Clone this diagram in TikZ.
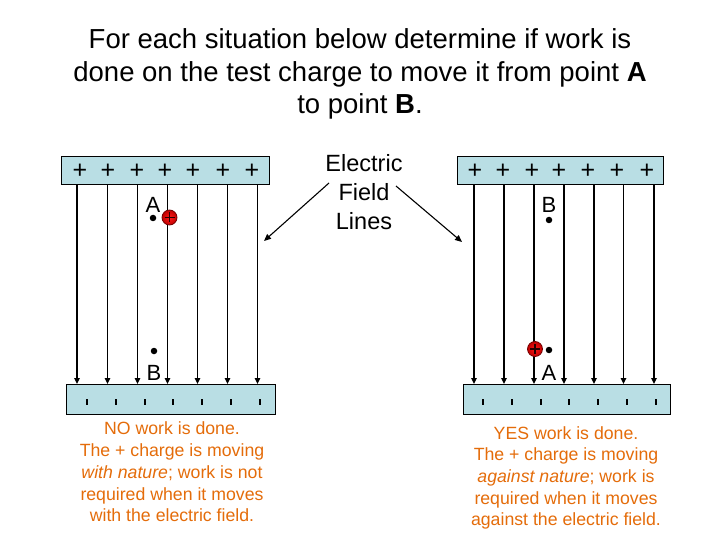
\documentclass[tikz,border=0pt]{standalone}
\usepackage{fontspec}
\setmainfont{Liberation Sans}
\usetikzlibrary{arrows.meta}
\definecolor{plate}{RGB}{185,222,228}
\definecolor{note}{RGB}{228,108,10}
\tikzset{
  platebox/.style={draw=black, line width=1pt, fill=plate},
  fieldline/.style={line width=1.5pt, -{Triangle[length=6pt,width=5.5pt]}},
  pointer/.style={line width=1.1pt, -{Triangle[length=7pt,width=6pt]}},
  plussign/.style={font=\fontsize{25}{25}\selectfont, inner sep=0pt},
  minustick/.style={line width=1.8pt},
  dotpt/.style={circle, fill=black, inner sep=0pt, minimum size=6.5pt},
  ptlabel/.style={font=\fontsize{22}{22}\selectfont, inner sep=0pt},
  charge/.style={circle, draw=red!45!black, line width=0.8pt, inner color=red!90!white, outer color=red!75!black, inner sep=0pt, minimum size=15pt},
  chargeplus/.style={line width=1.3pt, black!85!red},
  notetext/.style={align=center, text=note, font=\fontsize{17.7}{21.7}\selectfont},
}
\begin{document}
\begin{tikzpicture}[x=1pt,y=-1pt]
\useasboundingbox (0,0) rectangle (720,540);
% title
\node[align=center, font=\fontsize{27.5}{32.5}\selectfont] (title) at (360,74)
  {For each situation below determine if work is\\done on the test charge to move it from point \textbf{A}\\to point \textbf{B}.};
% label
\node[align=center, font=\fontsize{23.5}{29}\selectfont] (efl) at (364,192) {Electric\\Field\\Lines};
\coordinate (pl) at (264,241);
\coordinate (pr) at (462,242);
\coordinate (s1) at (329,183);
\coordinate (s2) at (396,186);
\draw[pointer] (s1) -- (pl);
\draw[pointer] (s2) -- (pr);

% LEFT
\node[platebox, minimum width=208pt, minimum height=28pt, inner sep=0pt] (ltop) at (165,171) {};
\node[platebox, minimum width=209pt, minimum height=30pt, inner sep=0pt] (lbot) at (170.5,399) {};
\foreach \x in {77,107.5,137.5,167.5,197.5,227.5,257.5}
  \draw[fieldline] (\x,185) -- (\x,384);
\foreach \x in {80,108,137,165,193,223,252}
  \node[plussign] at (\x,171.5) {+};
\foreach \x in {87,116,145,173,202,231,260}
  \draw[minustick] (\x,399) -- (\x,405);
\node[dotpt] (la) at (153,218) {};
\node[ptlabel] (lal) at (153,205) {A};
\node[charge] (lq) at (169.5,217.5) {};
\draw[chargeplus] (lq.center) ++(-5,0) -- ++(10,0) (lq.center) ++(0,-5) -- ++(0,10);
\node[dotpt] (lb) at (154,351) {};
\node[ptlabel] (lbl) at (154,373) {B};
\node[notetext] (ln) at (172,472) {NO work is done.\\The + charge is moving\\\textit{with nature}; work is not\\required when it moves\\ with the electric field.};

% RIGHT
\node[platebox, minimum width=206pt, minimum height=28pt, inner sep=0pt] (rtop) at (560,171) {};
\node[platebox, minimum width=207pt, minimum height=30pt, inner sep=0pt] (rbot) at (566.5,399) {};
\foreach \x in {474,504,534,564,594,623.5,654}
  \draw[fieldline] (\x,185) -- (\x,384);
\foreach \x in {475,503,532,559,588,617,647}
  \node[plussign] at (\x,171.5) {+};
\foreach \x in {483,512,541,569,598,627,656}
  \draw[minustick] (\x,399) -- (\x,405);
\node[dotpt] (rb) at (549,220) {};
\node[ptlabel] (rbl) at (549,205) {B};
\node[dotpt] (ra) at (549,350) {};
\node[ptlabel] (ral) at (549,373) {A};
\node[charge] (rq) at (535,349) {};
\draw[chargeplus] (rq.center) ++(-5,0) -- ++(10,0) (rq.center) ++(0,-5) -- ++(0,10);
\node[notetext] (rn) at (566,478) {YES work is done.\\The + charge is moving\\\textit{against nature}; work is\\required when it moves\\against the electric field.};
\end{tikzpicture}
\end{document}
